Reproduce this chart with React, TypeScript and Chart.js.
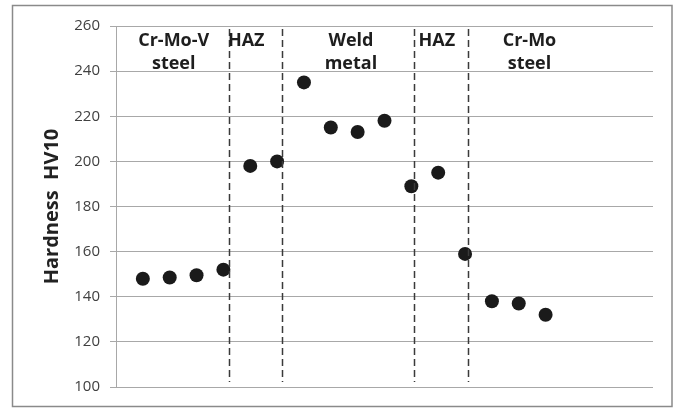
import React, { useEffect, useRef } from "react";
import { Chart, registerables } from "chart.js";

Chart.register(...registerables);

// Sample position index (x) and hardness values (HV10)
const positions = [1, 2, 3, 4, 5, 6, 7, 8, 9, 10, 11, 12, 13, 14, 15, 16];
const hardness = [148, 148.5, 149.5, 152, 198, 200, 235, 215, 213, 218, 189, 195, 159, 138, 137, 132];

// y-axis ticks
const yMin = 100;
const yMax = 260;
const yStep = 20;

// zone boundaries (dashed lines) on x
const boundaries = [4.2, 6.2, 11.1, 13.1];
// zone labels and their x centres
const zoneLabels = [["Cr-Mo-V", "steel"], ["HAZ"], ["Weld", "metal"], ["HAZ"], ["Cr-Mo", "steel"]];
const zoneCenters = [2.15, 4.85, 8.75, 11.95, 15.4];

const xMin = 0;
const xMax = 20;

const zonesPlugin = {
  id: "zones",
  beforeDraw(chart: any) {
    const ctx = chart.ctx;
    ctx.save();
    ctx.fillStyle = "#ffffff";
    ctx.fillRect(0, 0, chart.width, chart.height);
    ctx.strokeStyle = "#8a8a8a";
    ctx.lineWidth = 1.5;
    ctx.strokeRect(12.5, 5.5, 659.5, 401);
    ctx.restore();
  },
  afterDatasetsDraw(chart: any) {
    const ctx = chart.ctx;
    const xs = chart.scales.x;
    const area = chart.chartArea;
    ctx.save();
    ctx.strokeStyle = "#3a3a3a";
    ctx.lineWidth = 1.5;
    ctx.setLineDash([7, 4]);
    boundaries.forEach((b) => {
      const px = Math.round(xs.getPixelForValue(b)) + 0.5;
      ctx.beginPath();
      ctx.moveTo(px, area.top + 3);
      ctx.lineTo(px, area.bottom - 5);
      ctx.stroke();
    });
    ctx.setLineDash([]);
    ctx.fillStyle = "#1e1e1e";
    ctx.font = "bold 18px 'Open Sans'";
    ctx.textAlign = "center";
    ctx.textBaseline = "alphabetic";
    zoneLabels.forEach((lines, i) => {
      const px = xs.getPixelForValue(zoneCenters[i]);
      lines.forEach((t, j) => {
        ctx.fillText(t, px, area.top + 20 + j * 23);
      });
    });
    ctx.restore();
  },
};

export default function App() {
  const ref = useRef<HTMLCanvasElement | null>(null);
  useEffect(() => {
    if (!ref.current) return;
    const chart = new Chart(ref.current, {
      type: "scatter",
      data: {
        datasets: [
          {
            data: positions.map((p, i) => ({ x: p, y: hardness[i] })),
            backgroundColor: "#1a1a1a",
            borderWidth: 0,
            pointRadius: 7,
          },
        ],
      },
      options: {
        animation: false,
        responsive: false,
        devicePixelRatio: 1,
        layout: { padding: { left: 0, right: 24, top: 26, bottom: 21 } },
        plugins: { legend: { display: false }, tooltip: { enabled: false } },
        scales: {
          x: { type: "linear", min: xMin, max: xMax, display: false },
          y: {
            min: yMin,
            max: yMax,
            ticks: {
              stepSize: yStep,
              padding: 10,
              color: "#404040",
              font: { family: "'Open Sans'", size: 15 },
            },
            grid: { color: "#a8a8a8", lineWidth: 1, tickLength: 6 },
            border: { color: "#a8a8a8", width: 1 },
            title: {
              display: true,
              text: "Hardness  HV10",
              color: "#222222",
              font: { family: "'Open Sans'", size: 20, weight: "bold" },
              padding: { top: 40, bottom: 0 },
            },
            afterFit(scale: any) {
              scale.width = 116;
            },
          },
        },
      },
      plugins: [zonesPlugin],
    });
    return () => chart.destroy();
  }, []);
  return (
    <div style={{ position: "absolute", left: 0, top: 0, width: 677, height: 408, background: "#fff" }}>
      <canvas ref={ref} width={677} height={408} />
    </div>
  );
}
